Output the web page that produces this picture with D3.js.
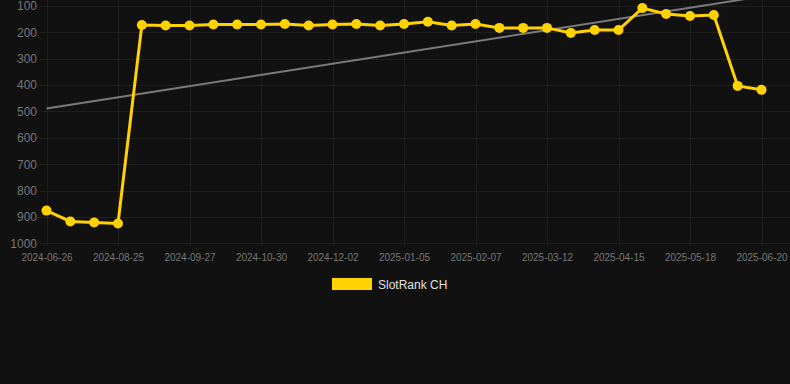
<!DOCTYPE html>
<html>

<head>
  <script type="text/javascript" src="https://d3js.org/d3.v7.min.js"></script>
  <style>
    body { margin: 0; background: #111111; }
    .grid line { stroke: #1f1f1f; stroke-width: 1px; }
    .axis text { fill: #777777; font-family: Arial, "Liberation Sans", sans-serif; }
    .line { fill: none; stroke: #ffd200; stroke-width: 3px; }
    .trend { fill: none; stroke: #7b7b7b; stroke-width: 2px; }
  </style>
</head>

<body>
  <script>
    // categories (one per point), only every 3rd is labelled
    var dates = [
      "2024-06-26", "2024-07-16", "2024-08-05", "2024-08-25", "2024-09-05", "2024-09-16",
      "2024-09-27", "2024-10-08", "2024-10-19", "2024-10-30", "2024-11-10", "2024-11-21",
      "2024-12-02", "2024-12-13", "2024-12-24", "2025-01-05", "2025-01-16", "2025-01-27",
      "2025-02-07", "2025-02-18", "2025-03-01", "2025-03-12", "2025-03-23", "2025-04-03",
      "2025-04-15", "2025-04-26", "2025-05-07", "2025-05-18", "2025-05-29", "2025-06-09",
      "2025-06-20"
    ];
    var ranks = [
      876, 917, 921, 925, 172, 174, 174, 170, 170, 170, 168, 174, 170, 168, 174, 168,
      160, 174, 168, 183, 183, 183, 202, 191, 191, 108, 130, 138, 134, 403, 418
    ];
    var trend = [489, 64]; // trend line, start and end values
    var yTicks = [100, 200, 300, 400, 500, 600, 700, 800, 900, 1000];
    var seriesName = "SlotRank CH";

    var width = 790, height = 384;

    var svg = d3.select("body").append("svg")
      .attr("width", width)
      .attr("height", height);

    var x = d3.scalePoint().domain(dates).range([46.5, 761.5]);
    var y = d3.scaleLinear().domain([100, 1000]).range([6, 243.3]);

    var xTicks = dates.filter(function (d, i) { return i % 3 === 0; });

    // grid
    svg.append("g").attr("class", "grid")
      .selectAll("line").data(yTicks).enter().append("line")
      .attr("x1", 40).attr("x2", 790)
      .attr("y1", function (d) { return Math.round(y(d)) + 0.5; })
      .attr("y2", function (d) { return Math.round(y(d)) + 0.5; });
    svg.append("g").attr("class", "grid")
      .selectAll("line").data(xTicks).enter().append("line")
      .attr("x1", function (d) { return Math.round(x(d)) + 0.5; })
      .attr("x2", function (d) { return Math.round(x(d)) + 0.5; })
      .attr("y1", 0).attr("y2", 246);

    // Y axis
    var yAxis = svg.append("g").attr("class", "axis")
      .attr("transform", "translate(37,0)")
      .call(d3.axisLeft(y).tickValues(yTicks).tickFormat(d3.format("d")).tickSize(0).tickPadding(0));
    yAxis.select(".domain").remove();
    yAxis.selectAll("text").style("font-size", "12px");

    // X axis
    var xAxis = svg.append("g").attr("class", "axis")
      .attr("transform", "translate(0,251)")
      .call(d3.axisBottom(x).tickValues(xTicks).tickSize(0).tickPadding(3));
    xAxis.select(".domain").remove();
    xAxis.selectAll("text").style("font-size", "10px");

    // trend line
    svg.append("line").attr("class", "trend")
      .attr("x1", x(dates[0])).attr("y1", y(trend[0]))
      .attr("x2", x(dates[dates.length - 1])).attr("y2", y(trend[1]));

    // series line
    svg.append("path")
      .datum(ranks)
      .attr("class", "line")
      .attr("d", d3.line()
        .x(function (d, i) { return x(dates[i]); })
        .y(function (d) { return y(d); }));

    svg.selectAll(".dot").data(ranks).enter().append("circle")
      .attr("class", "dot")
      .attr("cx", function (d, i) { return x(dates[i]); })
      .attr("cy", function (d) { return y(d); })
      .attr("r", 5)
      .attr("fill", "#ffd200");

    // legend
    svg.append("rect")
      .attr("x", 332).attr("y", 278).attr("width", 40).attr("height", 12)
      .attr("fill", "#ffd200");
    svg.append("text")
      .attr("x", 378).attr("y", 288.5)
      .attr("fill", "#e0e0e0")
      .style("font-family", "Arial, 'Liberation Sans', sans-serif")
      .style("font-size", "12px")
      .text(seriesName);
  </script>
</body>

</html>
